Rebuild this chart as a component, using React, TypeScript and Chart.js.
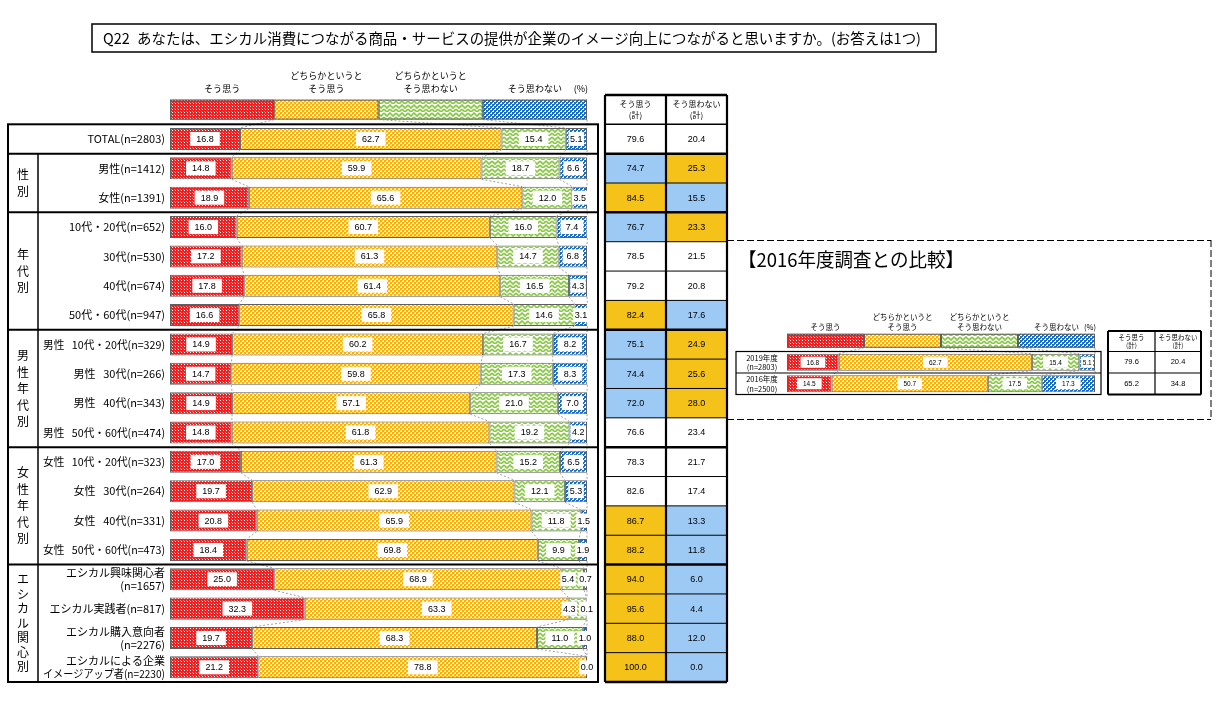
import React, { useEffect, useRef } from 'react';
import { Chart, registerables } from 'chart.js';

Chart.register(...registerables);

// ---------- data ----------
const categories: string[][] = [
  ['TOTAL(n=2803)'],
  ['男性(n=1412)'],
  ['女性(n=1391)'],
  ['10代・20代(n=652)'],
  ['30代(n=530)'],
  ['40代(n=674)'],
  ['50代・60代(n=947)'],
  ['男性\u2002\u200910代・20代(n=329)'],
  ['男性\u2002\u200930代(n=266)'],
  ['男性\u2002\u200940代(n=343)'],
  ['男性\u2002\u200950代・60代(n=474)'],
  ['女性\u2002\u200910代・20代(n=323)'],
  ['女性\u2002\u200930代(n=264)'],
  ['女性\u2002\u200940代(n=331)'],
  ['女性\u2002\u200950代・60代(n=473)'],
  ['エシカル興味関心者', '(n=1657)'],
  ['エシカル実践者(n=817)'],
  ['エシカル購入意向者', '(n=2276)'],
  ['エシカルによる企業', 'イメージアップ者(n=2230)'],
];

const agreeStrong = [16.8, 14.8, 18.9, 16.0, 17.2, 17.8, 16.6, 14.9, 14.7, 14.9, 14.8, 17.0, 19.7, 20.8, 18.4, 25.0, 32.3, 19.7, 21.2];
const agreeSomewhat = [62.7, 59.9, 65.6, 60.7, 61.3, 61.4, 65.8, 60.2, 59.8, 57.1, 61.8, 61.3, 62.9, 65.9, 69.8, 68.9, 63.3, 68.3, 78.8];
const disagreeSomewhat = [15.4, 18.7, 12.0, 16.0, 14.7, 16.5, 14.6, 16.7, 17.3, 21.0, 19.2, 15.2, 12.1, 11.8, 9.9, 5.4, 4.3, 11.0, 0.0];
const disagreeStrong = [5.1, 6.6, 3.5, 7.4, 6.8, 4.3, 3.1, 8.2, 8.3, 7.0, 4.2, 6.5, 5.3, 1.5, 1.9, 0.7, 0.1, 1.0, 0.0];

const agreeTotal = [79.6, 74.7, 84.5, 76.7, 78.5, 79.2, 82.4, 75.1, 74.4, 72.0, 76.6, 78.3, 82.6, 86.7, 88.2, 94.0, 95.6, 88.0, 100.0];
const disagreeTotal = [20.4, 25.3, 15.5, 23.3, 21.5, 20.8, 17.6, 24.9, 25.6, 28.0, 23.4, 21.7, 17.4, 13.3, 11.8, 6.0, 4.4, 12.0, 0.0];
// H = agree notably higher than TOTAL, L = notably lower
const agreeMark = ['', 'L', 'H', 'L', '', '', 'H', 'L', 'L', 'L', '', '', '', 'H', 'H', 'H', 'H', 'H', 'H'];

const groupNames = ['', '性別', '年代別', '男性年代別', '女性年代別', 'エシカル関心別'];
const groupSizes = [1, 2, 4, 4, 4, 4];

const seriesNames: string[][] = [
  ['そう思う'],
  ['どちらかというと', 'そう思う'],
  ['どちらかというと', 'そう思わない'],
  ['そう思わない'],
];
const tableHeaders: string[][] = [['そう思う', '(計)'], ['そう思わない', '(計)']];

const titleText = 'Q22\u2002あなたは、エシカル消費につながる商品・サービスの提供が企業のイメージ向上につながると思いますか。(お答えは1つ)';

// inset comparison
const insetTitle = '【2016年度調査との比較】';
const insetCategories: string[][] = [['2019年度', '(n=2803)'], ['2016年度', '(n=2500)']];
const insetAgreeStrong = [16.8, 14.5];
const insetAgreeSomewhat = [62.7, 50.7];
const insetDisagreeSomewhat = [15.4, 17.5];
const insetDisagreeStrong = [5.1, 17.3];
const insetAgreeTotal = [79.6, 65.2];
const insetDisagreeTotal = [20.4, 34.8];

// ---------- style ----------
const JP = '"Noto Sans CJK JP", "Noto Sans", sans-serif';
const NUM = '"Liberation Sans", Arial, sans-serif';
const YELLOW = '#f5c21a';
const BLUE = '#9dcaf5';
const SEG_BORDER = '#5f5f5f';

function makePatterns(): CanvasPattern[] {
  const mk = (w: number, h: number, draw: (g: CanvasRenderingContext2D) => void) => {
    const c = document.createElement('canvas');
    c.width = w;
    c.height = h;
    const g = c.getContext('2d')!;
    draw(g);
    return g.createPattern(c, 'repeat')!;
  };
  const red = mk(3, 3, (g) => {
    g.fillStyle = '#f01e1e';
    g.fillRect(0, 0, 3, 3);
    g.fillStyle = '#ffffff';
    g.fillRect(1, 1, 1, 1);
    g.fillStyle = '#f87070';
    g.fillRect(0, 0, 1, 1);
  });
  const orange = mk(4, 4, (g) => {
    g.fillStyle = '#ffffff';
    g.fillRect(0, 0, 4, 4);
    g.fillStyle = '#ffad00';
    g.fillRect(0, 0, 2, 2);
    g.fillRect(2, 2, 2, 2);
    g.fillStyle = '#ffd060';
    g.fillRect(2, 0, 1, 1);
    g.fillRect(0, 2, 1, 1);
  });
  const green = mk(12, 8, (g) => {
    g.fillStyle = '#ffffff';
    g.fillRect(0, 0, 12, 8);
    g.strokeStyle = '#86c840';
    g.lineWidth = 1.7;
    g.beginPath();
    g.moveTo(0, 1); g.lineTo(3, 4); g.lineTo(6, 1); g.lineTo(9, 4); g.lineTo(12, 1);
    g.moveTo(0, 5); g.lineTo(3, 8);
    g.moveTo(6, 5); g.lineTo(9, 8);
    g.moveTo(3, 8); g.lineTo(6, 5);
    g.moveTo(9, 8); g.lineTo(12, 5);
    g.stroke();
  });
  const blue = mk(4, 4, (g) => {
    g.fillStyle = '#ffffff';
    g.fillRect(0, 0, 4, 4);
    g.fillStyle = '#1c6cc0';
    g.fillRect(0, 0, 2, 2);
    g.fillRect(2, 2, 2, 2);
    g.fillRect(2, 0, 1, 1);
    g.fillRect(0, 2, 1, 1);
  });
  return [red, orange, green, blue];
}

function txt(ctx: CanvasRenderingContext2D, s: string, x: number, y: number, font: string, align: CanvasTextAlign = 'center', color = '#000', maxW?: number) {
  ctx.font = font;
  ctx.textAlign = align;
  ctx.textBaseline = 'middle';
  ctx.fillStyle = color;
  if (maxW) ctx.fillText(s, x, y, maxW);
  else ctx.fillText(s, x, y);
}

function line(ctx: CanvasRenderingContext2D, x1: number, y1: number, x2: number, y2: number, w = 1, color = '#000', dash: number[] = []) {
  ctx.save();
  ctx.strokeStyle = color;
  ctx.lineWidth = w;
  ctx.setLineDash(dash);
  ctx.beginPath();
  ctx.moveTo(x1, y1);
  ctx.lineTo(x2, y2);
  ctx.stroke();
  ctx.restore();
}

// shared drawing of legend bar, connectors and value labels
function drawStackDecor(
  chart: any,
  series: number[][],
  pats: CanvasPattern[],
  opt: { legH: number; labelFont: string; boxH: number; legendFont: string; legendLine: number; legendGap: number }
) {
  const ctx: CanvasRenderingContext2D = chart.ctx;
  const xs = chart.scales.x;
  const ys = chart.scales.y;
  const X = (v: number) => xs.getPixelForValue(v);
  const n = series[0].length;
  const Y = (i: number) => ys.getPixelForValue(i);
  const step = n > 1 ? Y(1) - Y(0) : 20;
  const bh = chart.getDatasetMeta(0).data[0].height;
  const cum = (r: number, k: number) => {
    let s = 0;
    for (let j = 0; j < k; j++) s += series[j][r];
    return s;
  };

  // legend bar
  const legTop = Y(0) - step - opt.legH / 2;
  const legBot = legTop + opt.legH;
  for (let k = 0; k < 4; k++) {
    const x0 = X(25 * k);
    const x1 = X(25 * (k + 1));
    ctx.fillStyle = pats[k];
    ctx.fillRect(x0, legTop, x1 - x0, opt.legH);
    ctx.strokeStyle = SEG_BORDER;
    ctx.lineWidth = 1;
    ctx.strokeRect(x0 + 0.5, legTop + 0.5, x1 - x0 - 1, opt.legH - 1);
    const lines = seriesNames[k];
    const cx = (x0 + x1) / 2;
    const baseY = legTop - opt.legendGap;
    lines.forEach((l, i) => {
      txt(ctx, l, cx, baseY - (lines.length - 1 - i) * opt.legendLine, opt.legendFont);
    });
  }
  txt(ctx, '(%)', X(100) + 1, legTop - opt.legendGap, opt.legendFont, 'right');

  // connectors
  for (let k = 1; k <= 4; k++) {
    line(ctx, X(25 * k), legBot, X(cum(0, k)), Y(0) - bh / 2, 0.8, '#8a8a8a', [2, 2]);
    for (let r = 0; r < n - 1; r++) {
      line(ctx, X(cum(r, k)), Y(r) + bh / 2, X(cum(r + 1, k)), Y(r + 1) - bh / 2, 0.8, '#8a8a8a', [2, 2]);
    }
  }

  // value labels
  ctx.font = opt.labelFont;
  for (let r = 0; r < n; r++) {
    const items: { t: string; cx: number; bw: number }[] = [];
    let acc = 0;
    for (let k = 0; k < 4; k++) {
      const v = series[k][r];
      const s = acc;
      acc += v;
      if (v === 0 && k < 3) continue;
      const t = v.toFixed(1);
      const tw = ctx.measureText(t).width;
      const segW = X(acc) - X(s);
      const bw = Math.max(tw + 3, Math.min(tw + 12, segW - 8));
      items.push({ t, cx: (X(s) + X(acc)) / 2, bw });
    }
    for (let i = items.length - 2; i >= 0; i--) {
      const maxC = items[i + 1].cx - items[i + 1].bw / 2 - 2 - items[i].bw / 2;
      if (items[i].cx > maxC) items[i].cx = maxC;
    }
    items.forEach((it) => {
      ctx.fillStyle = '#ffffff';
      ctx.fillRect(it.cx - it.bw / 2, Y(r) - opt.boxH / 2, it.bw, opt.boxH);
      txt(ctx, it.t, it.cx, Y(r) + 0.5, opt.labelFont);
    });
  }
  return { X, Y, step, legTop };
}

export default function App() {
  const mainRef = useRef<HTMLCanvasElement>(null);
  const insetRef = useRef<HTMLCanvasElement>(null);

  useEffect(() => {
    const pats = makePatterns();
    const series = [agreeStrong, agreeSomewhat, disagreeSomewhat, disagreeStrong];
    const insetSeries = [insetAgreeStrong, insetAgreeSomewhat, insetDisagreeSomewhat, insetDisagreeStrong];

    const mainPlugin = {
      id: 'mainDecor',
      afterDatasetsDraw(chart: any) {
        const ctx: CanvasRenderingContext2D = chart.ctx;
        const { Y, step } = drawStackDecor(chart, series, pats, {
          legH: 20, labelFont: `9px ${NUM}`, boxH: 14, legendFont: `9px ${JP}`, legendLine: 13, legendGap: 11,
        });
        const n = categories.length;
        const edge = (i: number) => Y(0) - step / 2 + i * step;

        // title box
        ctx.save();
        ctx.strokeStyle = '#000';
        ctx.lineWidth = 1.5;
        ctx.strokeRect(92, 24, 844, 28);
        ctx.restore();
        txt(ctx, titleText, 103, 38.5, `14.5px ${JP}`, 'left', '#000', 818);

        // left panel borders
        const pL = 8, pR = 598, gX = 38;
        ctx.save();
        ctx.strokeStyle = '#000';
        ctx.lineWidth = 2;
        ctx.strokeRect(pL, edge(0), pR - pL, edge(n) - edge(0));
        ctx.restore();
        let idx = 0;
        groupSizes.forEach((sz, g) => {
          if (idx > 0) line(ctx, pL, edge(idx), pR, edge(idx), 2);
          if (groupNames[g]) {
            const chars = Array.from(groupNames[g]);
            const top = edge(idx), bot = edge(idx + sz);
            const cy = (top + bot) / 2;
            const sp = Math.min(16.5, (bot - top - 16) / chars.length);
            chars.forEach((c, i) => {
              txt(ctx, c, (pL + gX) / 2, cy + (i - (chars.length - 1) / 2) * sp, `12px ${JP}`);
            });
          }
          idx += sz;
        });
        line(ctx, gX, edge(1), gX, edge(n), 1.5);

        // row labels
        categories.forEach((lab, r) => {
          if (lab.length === 1) txt(ctx, lab[0], 165, Y(r), `11px ${JP}`, 'right', '#000', 122);
          else {
            txt(ctx, lab[0], 165, Y(r) - 6.5, `11px ${JP}`, 'right', '#000', 122);
            txt(ctx, lab[1], 165, Y(r) + 6.5, `11px ${JP}`, 'right', '#000', 122);
          }
        });

        // right table
        const tx = [605, 666, 727];
        const hTop = 95;
        for (let r = 0; r < n; r++) {
          const m = agreeMark[r];
          const c1 = m === 'H' ? YELLOW : m === 'L' ? BLUE : '#ffffff';
          const c2 = m === 'H' ? BLUE : m === 'L' ? YELLOW : '#ffffff';
          ctx.fillStyle = c1;
          ctx.fillRect(tx[0], edge(r), tx[1] - tx[0], step);
          ctx.fillStyle = c2;
          ctx.fillRect(tx[1], edge(r), tx[2] - tx[1], step);
          txt(ctx, agreeTotal[r].toFixed(1), (tx[0] + tx[1]) / 2, Y(r) + 0.5, `9px ${NUM}`);
          txt(ctx, disagreeTotal[r].toFixed(1), (tx[1] + tx[2]) / 2, Y(r) + 0.5, `9px ${NUM}`);
        }
        tableHeaders.forEach((h, c) => {
          const cx = (tx[c] + tx[c + 1]) / 2;
          txt(ctx, h[0], cx, hTop + 9, `8px ${JP}`);
          txt(ctx, h[1], cx, hTop + 20, `8px ${JP}`);
        });
        const thick = new Set<number>();
        let acc2 = 0;
        groupSizes.forEach((sz) => { acc2 += sz; thick.add(acc2); });
        thick.add(1);
        for (let r = 0; r <= n; r++) {
          const w = r === 0 ? 1.5 : thick.has(r) ? 2.5 : 1;
          line(ctx, tx[0], edge(r), tx[2], edge(r), w);
        }
        line(ctx, tx[0], hTop, tx[2], hTop, 2.5);
        tx.forEach((x) => line(ctx, x, hTop, x, edge(n), 2.2));
      },
    };

    const main = new Chart(mainRef.current!, {
      type: 'bar',
      data: {
        labels: categories.map((c) => c.join(' ')),
        datasets: series.map((s, i) => ({
          label: seriesNames[i].join(''),
          data: s,
          backgroundColor: pats[i],
          borderColor: SEG_BORDER,
          borderWidth: 1,
          borderSkipped: false,
          barPercentage: 0.75,
          categoryPercentage: 1,
        })),
      },
      options: {
        indexAxis: 'y',
        responsive: false,
        animation: false,
        devicePixelRatio: 1,
        events: [],
        layout: { padding: { left: 170, right: 628, top: 124.3, bottom: 24 } },
        scales: {
          x: { stacked: true, min: 0, max: 100, display: false },
          y: { stacked: true, display: false },
        },
        plugins: { legend: { display: false }, tooltip: { enabled: false }, title: { display: false } },
      },
      plugins: [mainPlugin],
    } as any);

    const insetPlugin = {
      id: 'insetDecor',
      afterDatasetsDraw(chart: any) {
        const ctx: CanvasRenderingContext2D = chart.ctx;
        // outer frame
        line(ctx, 727, 240, 727, 420, 1.2);
        line(ctx, 727, 240.5, 1211, 240.5, 1, '#000', [7, 3]);
        line(ctx, 1211, 240, 1211, 420, 1, '#000', [7, 3]);
        line(ctx, 727, 419.5, 1211, 419.5, 1, '#000', [7, 3]);
        txt(ctx, insetTitle, 738, 260, `19px ${JP}`, 'left', '#000', 226);

        const { Y, step } = drawStackDecor(chart, insetSeries, pats, {
          legH: 14, labelFont: `6.5px ${NUM}`, boxH: 11, legendFont: `7.5px ${JP}`, legendLine: 10, legendGap: 7,
        });
        const n = insetCategories.length;
        const edge = (i: number) => Y(0) - step / 2 + i * step;
        // row label box
        ctx.save();
        ctx.strokeStyle = '#000';
        ctx.lineWidth = 1.2;
        ctx.strokeRect(736, edge(0), 1101 - 736, edge(n) - edge(0));
        ctx.restore();
        for (let r = 1; r < n; r++) line(ctx, 736, edge(r), 1101, edge(r), 1.2);
        insetCategories.forEach((lab, r) => {
          txt(ctx, lab[0], 762, Y(r) - 4.5, `7.5px ${JP}`);
          txt(ctx, lab[1], 762, Y(r) + 5, `7.5px ${JP}`);
        });
        // table
        const tx = [1108, 1155, 1201];
        const hTop = 331;
        for (let r = 0; r < n; r++) {
          txt(ctx, insetAgreeTotal[r].toFixed(1), (tx[0] + tx[1]) / 2, Y(r), `7.5px ${NUM}`);
          txt(ctx, insetDisagreeTotal[r].toFixed(1), (tx[1] + tx[2]) / 2, Y(r), `7.5px ${NUM}`);
        }
        tableHeaders.forEach((h, c) => {
          const cx = (tx[c] + tx[c + 1]) / 2;
          txt(ctx, h[0], cx, hTop + 6.5, `6.5px ${JP}`);
          txt(ctx, h[1], cx, hTop + 14.5, `6.5px ${JP}`);
        });
        line(ctx, tx[0], hTop, tx[2], hTop, 2);
        for (let r = 0; r <= n; r++) line(ctx, tx[0], edge(r), tx[2], edge(r), r === n ? 2 : 1.2);
        tx.forEach((x, i) => line(ctx, x, hTop, x, edge(n), i === 1 ? 1.2 : 2));
      },
    };

    const inset = new Chart(insetRef.current!, {
      type: 'bar',
      data: {
        labels: insetCategories.map((c) => c.join(' ')),
        datasets: insetSeries.map((s, i) => ({
          label: seriesNames[i].join(''),
          data: s,
          backgroundColor: pats[i],
          borderColor: SEG_BORDER,
          borderWidth: 1,
          borderSkipped: false,
          barPercentage: 0.79,
          categoryPercentage: 1,
        })),
      },
      options: {
        indexAxis: 'y',
        responsive: false,
        animation: false,
        devicePixelRatio: 1,
        events: [],
        layout: { padding: { left: 787, right: 120, top: 351.5, bottom: 311.5 } },
        scales: {
          x: { stacked: true, min: 0, max: 100, display: false },
          y: { stacked: true, display: false },
        },
        plugins: { legend: { display: false }, tooltip: { enabled: false }, title: { display: false } },
      },
      plugins: [insetPlugin],
    } as any);

    return () => {
      main.destroy();
      inset.destroy();
    };
  }, []);

  return (
    <div style={{ position: 'absolute', left: 0, top: 0, width: 1215, height: 706, background: '#ffffff' }}>
      <canvas ref={mainRef} width={1215} height={706} style={{ position: 'absolute', left: 0, top: 0 }} />
      <canvas ref={insetRef} width={1215} height={706} style={{ position: 'absolute', left: 0, top: 0 }} />
    </div>
  );
}
